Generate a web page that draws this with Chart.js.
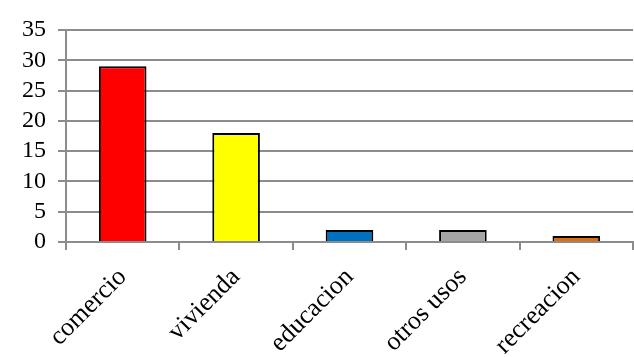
<!DOCTYPE html>
<html>
<head>
<meta charset="utf-8">
<script src="https://cdn.jsdelivr.net/npm/chart.js@4"></script>
<style>
  body { margin: 0; background: #fff; }
</style>
</head>
<body>
<canvas id="usosChart" width="634" height="357"></canvas>
<script>
const usos = ["comercio", "vivienda", "educacion", "otros usos", "recreacion"];
const cantidades = [29, 18, 2, 2, 1];
const colores = ["#FF0000", "#FFFF00", "#0070C0", "#A5A5A5", "#E36C09"];
const yMax = 35;
const yPaso = 5;

const ctx = document.getElementById("usosChart").getContext("2d");
const gris = "#8c8c8c";
const fuenteY = { family: "Liberation Serif", size: 24 };
const fuenteX = { family: "Liberation Serif", size: 26 };

new Chart(ctx, {
    type: "bar",
    data: {
        labels: usos,
        datasets: [{
            data: cantidades,
            backgroundColor: colores,
            borderColor: "#000",
            borderWidth: 2,
            categoryPercentage: 1,
            barPercentage: 0.42
        }]
    },
    options: {
        responsive: false,
        animation: false,
        layout: { padding: { top: 30, right: 1, left: 0, bottom: 0 } },
        plugins: { legend: { display: false }, tooltip: { enabled: false } },
        scales: {
            x: {
                grid: { display: true, drawOnChartArea: false, color: gris, lineWidth: 2, tickLength: 8, offset: true },
                border: { color: gris, width: 2 },
                ticks: { color: "#000", font: fuenteX, minRotation: 45, maxRotation: 45, padding: 12, autoSkip: false },
                afterFit: (scale) => { scale.height = 115; }
            },
            y: {
                min: 0,
                max: yMax,
                grid: { color: gris, lineWidth: 2, tickLength: 8 },
                border: { color: gris, width: 2 },
                ticks: { stepSize: yPaso, color: "#000", font: fuenteY, padding: 12, autoSkip: false },
                afterFit: (scale) => { scale.width = 66; }
            }
        }
    }
});
</script>
</body>
</html>
